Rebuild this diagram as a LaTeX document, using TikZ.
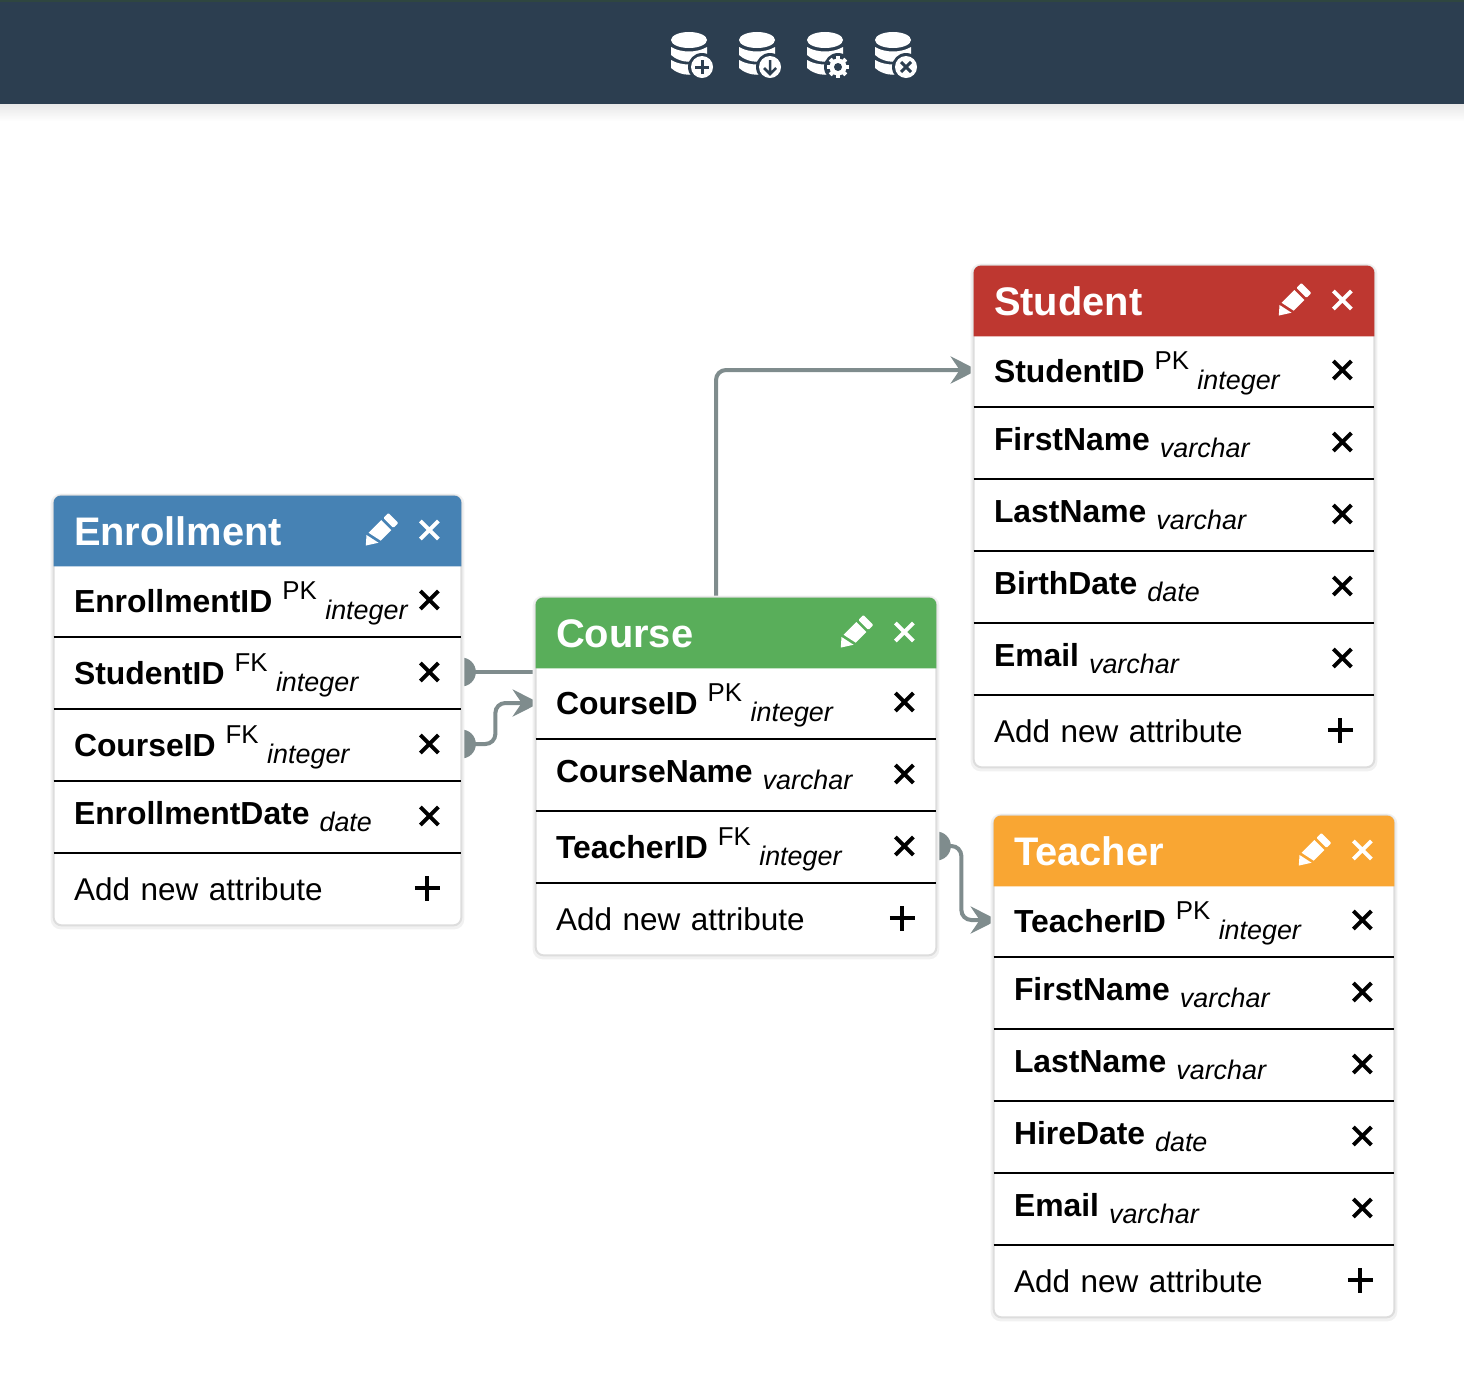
\documentclass[tikz,border=0pt]{standalone}
\usepackage{fontspec}
\setmainfont{Liberation Sans}
\usepackage{xcolor}
\usepackage{tikz}
\usetikzlibrary{arrows.meta, backgrounds}
\pgfdeclarelayer{links}
\pgfsetlayers{links,background,main}

\definecolor{barblue}{HTML}{2C3E50}
\definecolor{barline}{HTML}{2F4640}
\definecolor{linkgrey}{HTML}{7F8C8D}
\definecolor{cardedge}{HTML}{DDDDDD}
\definecolor{cardglow}{HTML}{F1F1F1}
\definecolor{enrollblue}{HTML}{4682B4}
\definecolor{coursegreen}{HTML}{59AE5A}
\definecolor{studentred}{HTML}{BE3730}
\definecolor{teacherorange}{HTML}{F9A633}

\newcommand{\headfont}{\fontsize{22.68}{26}\selectfont\bfseries}
\newcommand{\rowfont}{\fontsize{18.14}{22}\selectfont}
\newcommand{\addfont}{\fontsize{17.92}{22}\selectfont}
\newcommand{\keyfont}{\fontsize{14.7}{17}\selectfont}
\newcommand{\typefont}{\fontsize{15.3}{18}\selectfont\itshape}
\newcommand{\keyattr}[3]{\textbf{#1}\hspace{.2cm}\raisebox{.26cm}{\keyfont #2}\hspace{.17cm}\raisebox{-.14cm}{\typefont #3}}
\newcommand{\plainattr}[2]{\raisebox{.09cm}{\textbf{#1}}\hspace{.2cm}\raisebox{-.06cm}{\typefont #2}}

\tikzstyle{head} = [rectangle, inner xsep=.4cm, inner ysep=0, minimum height=1.4cm, text width=7.2cm, text height=.57cm, text depth=0cm, text=white, font=\headfont]
\tikzstyle{attr} = [rectangle, inner xsep=.4cm, inner ysep=0, minimum height=1.44cm, text width=7.2cm, text height=.46cm, text depth=0cm, font=\rowfont]
\tikzstyle{addrow} = [attr, font=\addfont]
\tikzstyle{wide} = [text width=7.34cm]
\tikzstyle{rowline} = [black, line width=.04cm]
\tikzstyle{link} = [linkgrey, line width=.08cm, rounded corners=.2cm, shorten >=-.08cm, -{Stealth[length=.54cm,width=.54cm,inset=.18cm]}]

\tikzset{
	pics/crossicon/.style={code={
		\draw [#1, line width=.08cm] (-.18,-.18) -- (.18,.18) (-.18,.18) -- (.18,-.18);
	}},
	pics/crossicon/.default=black,
	pics/plusicon/.style={code={
		\draw [black, line width=.08cm] (-.25,0) -- (.25,0) (0,-.25) -- (0,.25);
	}},
	pics/pencilicon/.style={code={
		\begin{scope}[rotate=45, x=.02cm, y=.02cm]
			\fill [white] (-22,0) -- (-14,7) -- (-11,-7) -- cycle;
			\fill [white] (-11,7) -- (7,7) -- (7,-7) -- (-8,-7) -- cycle;
			\fill [white, rounded corners=.02cm] (10,7) -- (17,7) -- (17,-7) -- (10,-7) -- cycle;
		\end{scope}
	}},
	pics/dbicon/.style={code={
		\begin{scope}[x=.02cm, y=.02cm]
			\fill [white] (0,14) ellipse (18 and 8);
			\foreach \bandy in {0,-13} {
				\fill [white] (-18,7+\bandy) .. controls (-8,1+\bandy) and (8,1+\bandy) .. (18,7+\bandy) -- (18,-1+\bandy) .. controls (8,-10+\bandy) and (-8,-10+\bandy) .. (-18,-1+\bandy) -- cycle;
			}
			\fill [barblue] (13,-13) circle (14);
		\end{scope}
	}},
	pics/addglyph/.style={code={
		\begin{scope}[x=.02cm, y=.02cm]
			\fill [white] (13,-13) circle (11);
			\draw [barblue, line width=.06cm] (6,-13) -- (20,-13) (13,-20) -- (13,-6);
		\end{scope}
	}},
	pics/loadglyph/.style={code={
		\begin{scope}[x=.02cm, y=.02cm]
			\fill [white] (13,-13) circle (11);
			\draw [barblue, line width=.05cm] (13,-6) -- (13,-20) (7,-14) -- (13,-20) -- (19,-14);
		\end{scope}
	}},
	pics/gearglyph/.style={code={
		\begin{scope}[x=.02cm, y=.02cm]
			\foreach \toothangle in {0,45,...,315} {
				\draw [white, line width=.08cm] (13,-13) -- ++(\toothangle:11);
			}
			\fill [white] (13,-13) circle (8.5);
			\fill [barblue] (13,-13) circle (4);
		\end{scope}
	}},
	pics/dropglyph/.style={code={
		\begin{scope}[x=.02cm, y=.02cm]
			\fill [white] (13,-13) circle (11);
			\draw [barblue, line width=.06cm] (8,-18) -- (18,-8) (8,-8) -- (18,-18);
		\end{scope}
	}}
}

% Card behind a table: first and last node, header colour
\newcommand{\cardback}[3]{
	\begin{scope}[on background layer]
		\fill [cardglow, rounded corners=.2cm] ([shift={(-.06,.04)}]#1.north west) rectangle ([shift={(.06,-.08)}]#2.south east);
		\draw [cardedge, fill=white, line width=.04cm, rounded corners=.16cm] (#1.north west) rectangle (#2.south east);
		\fill [#3] (#1.south west) [rounded corners=.14cm] -- (#1.north west) -- (#1.north east) [sharp corners] -- (#1.south east) -- cycle;
	\end{scope}
}

\begin{document}
\begin{tikzpicture}[node distance=1.44cm]
		\useasboundingbox (0,0) rectangle (29.28,-27.68);
		
		% Top bar
		\node (topbar) [rectangle, inner sep=0, minimum width=29.28cm, minimum height=2.08cm, fill=barblue] at (14.64,-1.04) {};
		\fill [barline] (topbar.north west) rectangle ([yshift=-.05cm]topbar.north east);
		\shade [top color=black!9, bottom color=white] (topbar.south west) rectangle ([yshift=-.34cm]topbar.south east);
		\pic at (13.78,-1.08) {dbicon};
		\pic at (13.78,-1.08) {addglyph};
		\pic at (15.14,-1.08) {dbicon};
		\pic at (15.14,-1.08) {loadglyph};
		\pic at (16.50,-1.08) {dbicon};
		\pic at (16.50,-1.08) {gearglyph};
		\pic at (17.86,-1.08) {dbicon};
		\pic at (17.86,-1.08) {dropglyph};
		
		% Nodes for Student
		\node (student) [head] at (23.48,-6.02) {Student};
		\node (studentid) [attr, below of=student, yshift=.04cm] {\keyattr{StudentID}{PK}{integer}};
		\node (studentfirst) [attr, below of=studentid] {\plainattr{FirstName}{varchar}};
		\node (studentlast) [attr, below of=studentfirst] {\plainattr{LastName}{varchar}};
		\node (studentbirth) [attr, below of=studentlast] {\plainattr{BirthDate}{date}};
		\node (studentemail) [attr, below of=studentbirth] {\plainattr{Email}{varchar}};
		\node (studentadd) [addrow, below of=studentemail] {Add new attribute};
		
		% Nodes for Enrollment
		\node (enrollment) [head, wide] at (5.15,-10.62) {Enrollment};
		\node (enrollmentid) [attr, wide, below of=enrollment, yshift=.04cm] {\keyattr{EnrollmentID}{PK}{integer}};
		\node (enrollstudent) [attr, wide, below of=enrollmentid] {\keyattr{StudentID}{FK}{integer}};
		\node (enrollcourse) [attr, wide, below of=enrollstudent] {\keyattr{CourseID}{FK}{integer}};
		\node (enrolldate) [attr, wide, below of=enrollcourse] {\plainattr{EnrollmentDate}{date}};
		\node (enrolladd) [addrow, wide, below of=enrolldate] {Add new attribute};
		
		% Nodes for Course
		\node (course) [head] at (14.72,-12.66) {Course};
		\node (courseid) [attr, below of=course, yshift=.04cm] {\keyattr{CourseID}{PK}{integer}};
		\node (coursename) [attr, below of=courseid] {\plainattr{CourseName}{varchar}};
		\node (courseteacher) [attr, below of=coursename] {\keyattr{TeacherID}{FK}{integer}};
		\node (courseadd) [addrow, below of=courseteacher] {Add new attribute};
		
		% Nodes for Teacher
		\node (teacher) [head] at (23.88,-17.02) {Teacher};
		\node (teacherid) [attr, below of=teacher, yshift=.04cm] {\keyattr{TeacherID}{PK}{integer}};
		\node (teacherfirst) [attr, below of=teacherid] {\plainattr{FirstName}{varchar}};
		\node (teacherlast) [attr, below of=teacherfirst] {\plainattr{LastName}{varchar}};
		\node (teacherhire) [attr, below of=teacherlast] {\plainattr{HireDate}{date}};
		\node (teacheremail) [attr, below of=teacherhire] {\plainattr{Email}{varchar}};
		\node (teacheradd) [addrow, below of=teacheremail] {Add new attribute};
		
		% Cards
		\cardback{student}{studentadd}{studentred}
		\cardback{enrollment}{enrolladd}{enrollblue}
		\cardback{course}{courseadd}{coursegreen}
		\cardback{teacher}{teacheradd}{teacherorange}
		
		% Row lines and icons
		\foreach \rowname in {studentid,studentfirst,studentlast,studentbirth,studentemail,enrollmentid,enrollstudent,enrollcourse,enrolldate,courseid,coursename,courseteacher,teacherid,teacherfirst,teacherlast,teacherhire,teacheremail} {
			\pic at ([xshift=-.64cm,yshift=.02cm]\rowname.east) {crossicon};
			\draw [rowline] (\rowname.south west) -- (\rowname.south east);
		}
		\foreach \rowname in {studentadd,enrolladd,courseadd,teacheradd} {
			\pic at ([xshift=-.68cm,yshift=.02cm]\rowname.east) {plusicon};
		}
		
		% Header icons
		\foreach \rowname in {student,enrollment,course,teacher} {
			\pic at ([xshift=-.64cm,yshift=.02cm]\rowname.east) {crossicon=white};
			\pic at ([xshift=-1.6cm,yshift=.02cm]\rowname.east) {pencilicon};
		}
		
		% Connectors
		\begin{pgfonlayer}{links}
			\draw [link] ([xshift=-.4cm]course.north) |- ([yshift=.02cm]studentid.west);
			\fill [linkgrey] ([yshift=.02cm]enrollstudent.east) circle (.29);
			\draw [linkgrey, line width=.08cm] ([yshift=.02cm]enrollstudent.east) -- ([yshift=.02cm]enrollstudent.east -| courseid.west);
			\fill [linkgrey] ([yshift=.02cm]enrollcourse.east) circle (.29);
			\draw [link] ([yshift=.02cm]enrollcourse.east) -- ++(.68,0) |- (courseid.west);
			\fill [linkgrey] ([yshift=.02cm]courseteacher.east) circle (.29);
			\draw [link] ([yshift=.02cm]courseteacher.east) -- ++(.5,0) |- ([yshift=.02cm]teacherid.west);
		\end{pgfonlayer}
		
	\end{tikzpicture}
\end{document}
